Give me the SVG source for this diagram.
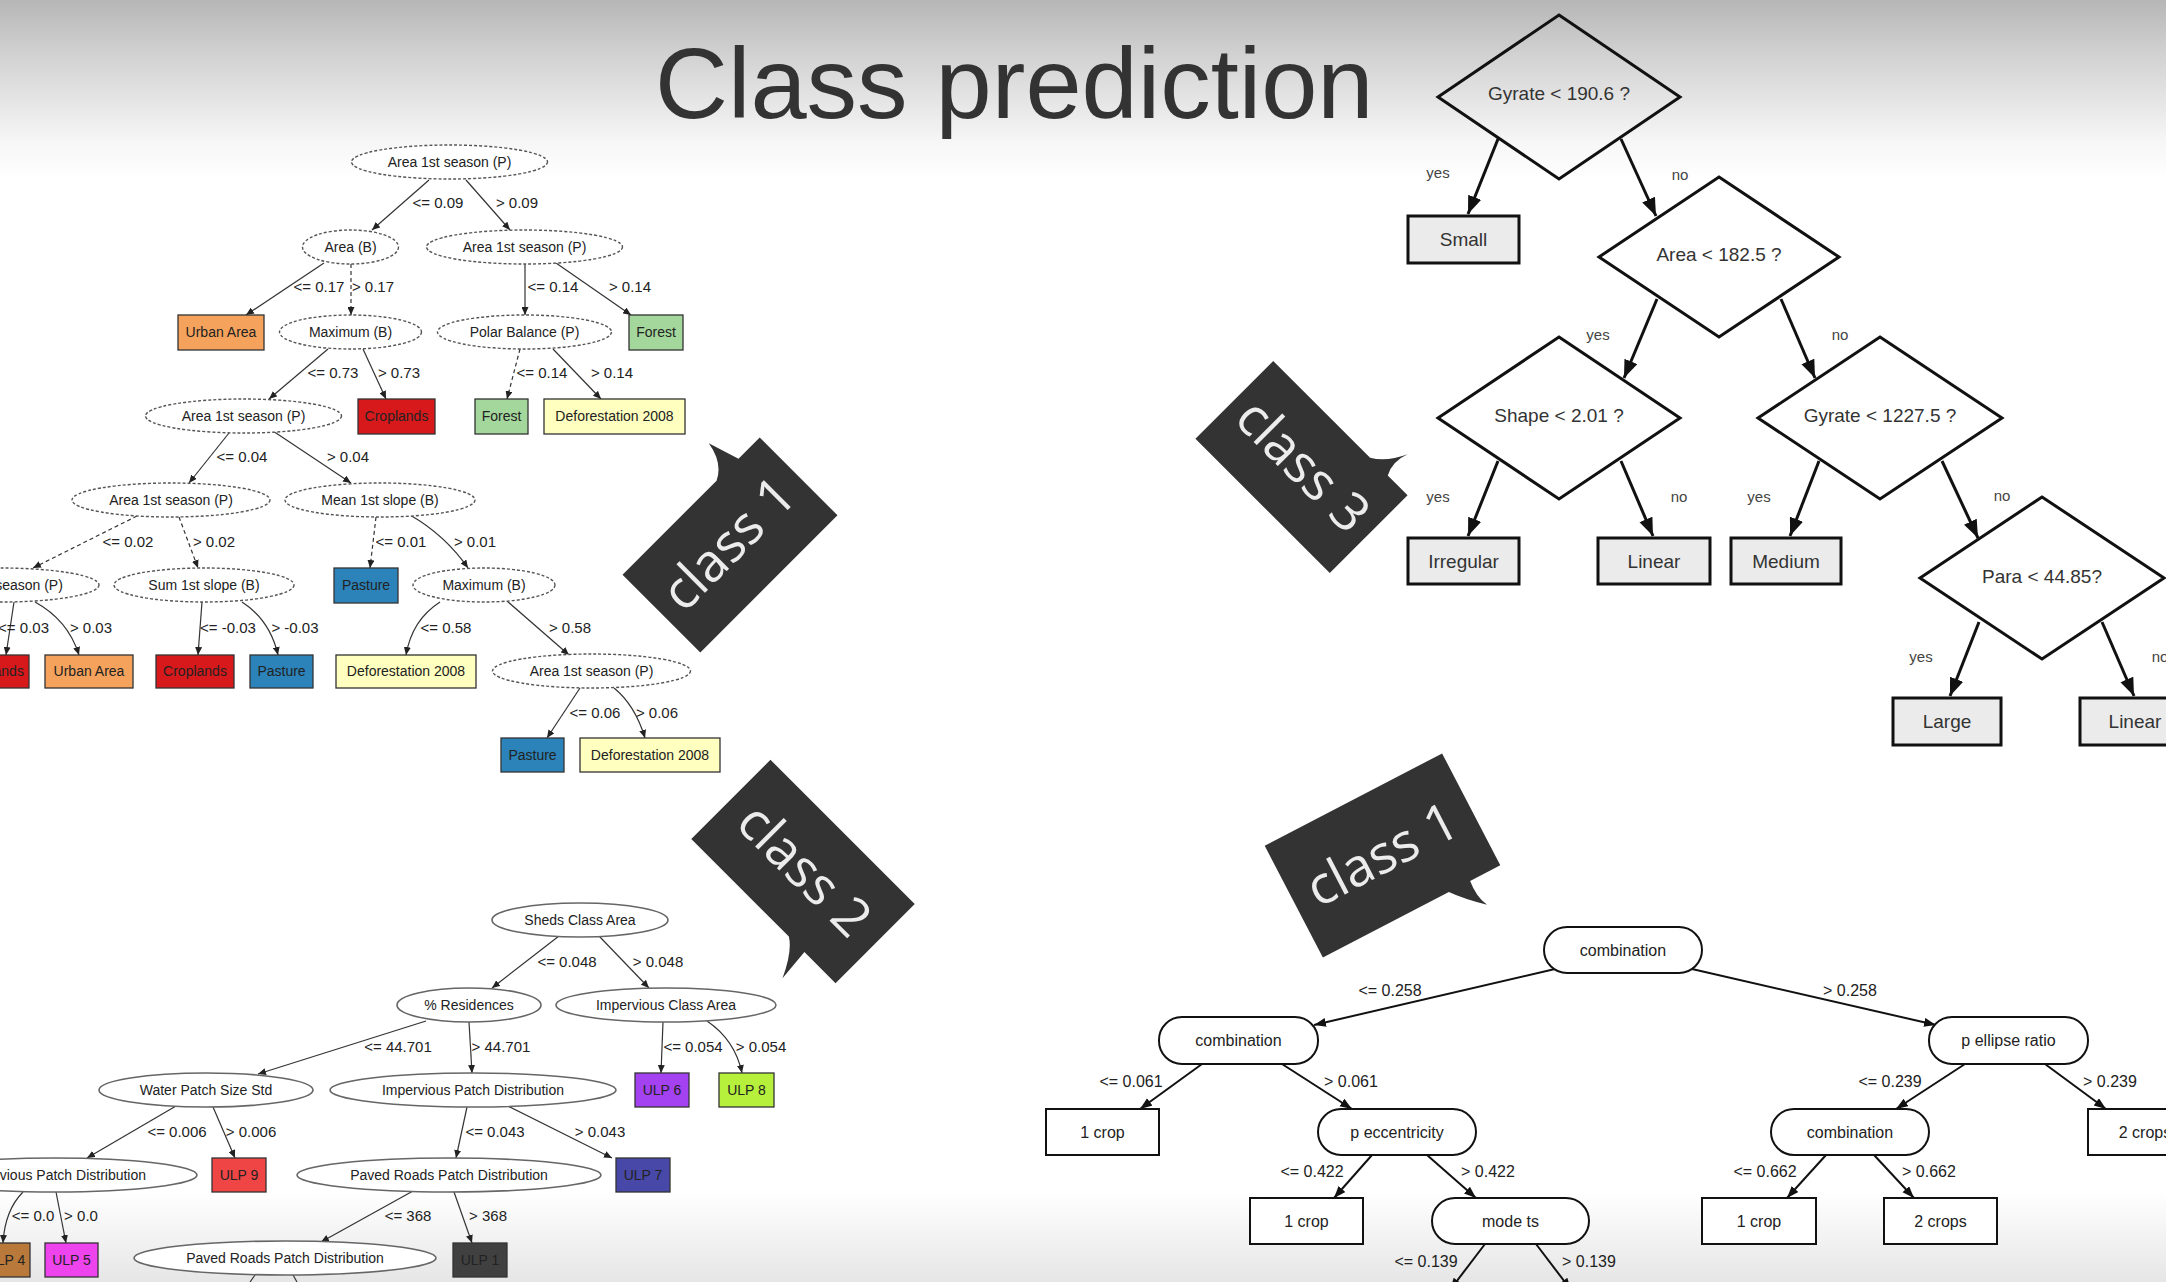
<svg xmlns="http://www.w3.org/2000/svg" width="2166" height="1282" viewBox="0 0 2166 1282">
<defs>
<linearGradient id="bg" x1="0" y1="0" x2="0" y2="1282" gradientUnits="userSpaceOnUse">
<stop offset="0" stop-color="#b6b6b6"/>
<stop offset="0.04" stop-color="#d0d0d0"/>
<stop offset="0.11" stop-color="#f6f6f6"/>
<stop offset="0.14" stop-color="#ffffff"/>
<stop offset="0.93" stop-color="#ffffff"/>
<stop offset="1" stop-color="#e6e6e6"/>
</linearGradient>
<marker id="arS" markerUnits="userSpaceOnUse" markerWidth="9" markerHeight="7" refX="8" refY="3.5" orient="auto"><path d="M0,0 L8,3.5 L0,7 Z" fill="#222"/></marker>
<marker id="arL" markerUnits="userSpaceOnUse" markerWidth="19" markerHeight="15" refX="18" refY="7" orient="auto"><path d="M0,0 L18,7 L0,14 Z" fill="#111"/></marker>
<marker id="arM" markerUnits="userSpaceOnUse" markerWidth="13" markerHeight="10" refX="12" refY="4.5" orient="auto"><path d="M0,0 L12,4.5 L0,9 Z" fill="#111"/></marker>
</defs>
<style>
text{font-family:"Liberation Sans",Arial,sans-serif;}
.title{font-size:101px;fill:#333;}
.ta{font-size:14px;fill:#222;text-anchor:middle;}
.la{font-size:15px;fill:#222;text-anchor:middle;}
.ella{fill:#fff;stroke:#555;stroke-width:1.4;stroke-dasharray:3 2;}
.ellb{fill:#fff;stroke:#666;stroke-width:1.6;}
.bx{stroke:#333;stroke-width:1.3;}
.ea{fill:none;stroke:#333;stroke-width:1.2;marker-end:url(#arS);}
.dash{stroke-dasharray:4 3;}
.stub{fill:none;stroke:#333;stroke-width:1.2;}
.dia{fill:none;stroke:#111;stroke-width:3;}
.bc{fill:#ebebeb;stroke:#111;stroke-width:3;}
.tc{font-size:19px;fill:#333;text-anchor:middle;}
.yn{font-size:15px;fill:#444;text-anchor:middle;}
.ec{fill:none;stroke:#111;stroke-width:3;marker-end:url(#arL);}
.nd{fill:#fff;stroke:#111;stroke-width:2;}
.td{font-size:16px;fill:#222;text-anchor:middle;}
.ld{font-size:16px;fill:#222;text-anchor:middle;}
.ed{fill:none;stroke:#111;stroke-width:2;marker-end:url(#arM);}
.bub{fill:#333;}
.bt{font-family:"Open Sans","Liberation Sans",sans-serif;font-size:53px;fill:#ececec;text-anchor:middle;}
</style>
<rect x="0" y="0" width="2166" height="1282" fill="url(#bg)"/>
<text class="title" x="655" y="118">Class prediction</text>

<!-- Tree A connectors -->
<g id="connectors-a">
<path class="ea" d="M429,180 L372,230"/>
<path class="ea" d="M466,180 L510,230"/>
<path class="ea" d="M324,263 L246,315"/>
<path class="ea dash" d="M351,264 L351,315"/>
<path class="ea" d="M525,264 L525,315"/>
<path class="ea" d="M556,263 L631,315"/>
<path class="ea" d="M328,349 L269,399"/>
<path class="ea" d="M363,349 L386,399"/>
<path class="ea dash" d="M520,349 L507,399"/>
<path class="ea" d="M553,349 L601,399"/>
<path class="ea" d="M229,433 L189,483"/>
<path class="ea" d="M273,431 L351,483"/>
<path class="ea dash" d="M137,516 L33,568"/>
<path class="ea dash" d="M179,517 L198,568"/>
<path class="ea dash" d="M376,517 L370,568"/>
<path class="ea" d="M410,515 Q445,535 468,568"/>
<path class="ea" d="M14,602 L6,655"/>
<path class="ea" d="M35,602 Q68,620 79,655"/>
<path class="ea" d="M202,602 L198,655"/>
<path class="ea" d="M242,602 Q270,620 278,655"/>
<path class="ea" d="M440,602 Q412,620 406,655"/>
<path class="ea" d="M507,601 L569,655"/>
<path class="ea" d="M580,688 L547,738"/>
<path class="ea" d="M614,688 Q635,705 645,738"/>
</g>
<g id="labels-a">
<text class="la" x="438" y="208">&lt;= 0.09</text>
<text class="la" x="517" y="208">&gt; 0.09</text>
<text class="la" x="319" y="292">&lt;= 0.17</text>
<text class="la" x="373" y="292">&gt; 0.17</text>
<text class="la" x="553" y="292">&lt;= 0.14</text>
<text class="la" x="630" y="292">&gt; 0.14</text>
<text class="la" x="333" y="378">&lt;= 0.73</text>
<text class="la" x="399" y="378">&gt; 0.73</text>
<text class="la" x="542" y="378">&lt;= 0.14</text>
<text class="la" x="612" y="378">&gt; 0.14</text>
<text class="la" x="242" y="462">&lt;= 0.04</text>
<text class="la" x="348" y="462">&gt; 0.04</text>
<text class="la" x="128" y="547">&lt;= 0.02</text>
<text class="la" x="214" y="547">&gt; 0.02</text>
<text class="la" x="401" y="547">&lt;= 0.01</text>
<text class="la" x="475" y="547">&gt; 0.01</text>
<text class="la" x="49" y="633" style="text-anchor:end">&lt;= 0.03</text>
<text class="la" x="91" y="633">&gt; 0.03</text>
<text class="la" x="228" y="633">&lt;= -0.03</text>
<text class="la" x="295" y="633">&gt; -0.03</text>
<text class="la" x="446" y="633">&lt;= 0.58</text>
<text class="la" x="570" y="633">&gt; 0.58</text>
<text class="la" x="595" y="718">&lt;= 0.06</text>
<text class="la" x="657" y="718">&gt; 0.06</text>
</g>
<!-- Tree A nodes -->
<g id="a1"><ellipse class="ella" cx="449.5" cy="162" rx="98" ry="17"/><text class="ta" x="449.5" y="167">Area 1st season (P)</text></g>
<g id="a2"><ellipse class="ella" cx="350.5" cy="247" rx="48" ry="17"/><text class="ta" x="350.5" y="252">Area (B)</text></g>
<g id="a3"><ellipse class="ella" cx="524.5" cy="247" rx="98" ry="17"/><text class="ta" x="524.5" y="252">Area 1st season (P)</text></g>
<g id="a4"><rect class="bx" x="178" y="315" width="86" height="35" fill="#f5a25d"/><text class="ta" x="221" y="337">Urban Area</text></g>
<g id="a5"><ellipse class="ella" cx="350.5" cy="332" rx="71" ry="17"/><text class="ta" x="350.5" y="337">Maximum (B)</text></g>
<g id="a6"><ellipse class="ella" cx="524.5" cy="332" rx="87" ry="17"/><text class="ta" x="524.5" y="337">Polar Balance (P)</text></g>
<g id="a7"><rect class="bx" x="629" y="315" width="54" height="35" fill="#a4d79c"/><text class="ta" x="656" y="337">Forest</text></g>
<g id="a8"><ellipse class="ella" cx="243.5" cy="416" rx="98" ry="17"/><text class="ta" x="243.5" y="421">Area 1st season (P)</text></g>
<g id="a9"><rect class="bx" x="358" y="399" width="77" height="35" fill="#d7191c"/><text class="ta" x="396.5" y="421">Croplands</text></g>
<g id="a10"><rect class="bx" x="475" y="399" width="53" height="35" fill="#a4d79c"/><text class="ta" x="501.5" y="421">Forest</text></g>
<g id="a11"><rect class="bx" x="544" y="399" width="141" height="35" fill="#ffffbf"/><text class="ta" x="614.5" y="421">Deforestation 2008</text></g>
<g id="a12"><ellipse class="ella" cx="171" cy="500" rx="99" ry="17"/><text class="ta" x="171" y="505">Area 1st season (P)</text></g>
<g id="a13"><ellipse class="ella" cx="380" cy="500" rx="95" ry="17"/><text class="ta" x="380" y="505">Mean 1st slope (B)</text></g>
<g id="a14"><ellipse class="ella" cx="1" cy="585" rx="98" ry="17"/><text class="ta" x="1" y="590">Area 1st season (P)</text></g>
<g id="a15"><ellipse class="ella" cx="204" cy="585" rx="90" ry="17"/><text class="ta" x="204" y="590">Sum 1st slope (B)</text></g>
<g id="a16"><rect class="bx" x="334" y="568" width="64" height="35" fill="#2b83ba"/><text class="ta" x="366" y="590">Pasture</text></g>
<g id="a17"><ellipse class="ella" cx="484" cy="585" rx="71" ry="17"/><text class="ta" x="484" y="590">Maximum (B)</text></g>
<g id="a18"><rect class="bx" x="-45" y="655" width="74" height="33" fill="#d7191c"/><text class="ta" x="-8" y="676">Croplands</text></g>
<g id="a19"><rect class="bx" x="45" y="655" width="88" height="33" fill="#f5a25d"/><text class="ta" x="89" y="676">Urban Area</text></g>
<g id="a20"><rect class="bx" x="156" y="655" width="78" height="33" fill="#d7191c"/><text class="ta" x="195" y="676">Croplands</text></g>
<g id="a21"><rect class="bx" x="250" y="655" width="63" height="33" fill="#2b83ba"/><text class="ta" x="281.5" y="676">Pasture</text></g>
<g id="a22"><rect class="bx" x="336" y="655" width="140" height="33" fill="#ffffbf"/><text class="ta" x="406" y="676">Deforestation 2008</text></g>
<g id="a23"><ellipse class="ella" cx="591.5" cy="671" rx="99" ry="17"/><text class="ta" x="591.5" y="676">Area 1st season (P)</text></g>
<g id="a24"><rect class="bx" x="501" y="738" width="63" height="34" fill="#2b83ba"/><text class="ta" x="532.5" y="760">Pasture</text></g>
<g id="a25"><rect class="bx" x="580" y="738" width="140" height="34" fill="#ffffbf"/><text class="ta" x="650" y="760">Deforestation 2008</text></g>

<!-- Tree B connectors -->
<g id="connectors-b">
<path class="ea" d="M559,936 L492,988"/>
<path class="ea" d="M599,936 L649,988"/>
<path class="ea" d="M426,1021 L258,1074"/>
<path class="ea" d="M469,1022 L472,1073"/>
<path class="ea" d="M663,1022 L661,1073"/>
<path class="ea" d="M707,1021 Q735,1040 742,1073"/>
<path class="ea" d="M176,1106 L87,1158"/>
<path class="ea" d="M213,1107 L235,1158"/>
<path class="ea" d="M467,1107 L456,1158"/>
<path class="ea" d="M508,1106 L612,1158"/>
<path class="ea" d="M23,1192 Q5,1210 3,1243"/>
<path class="ea" d="M56,1192 L66,1243"/>
<path class="ea" d="M413,1191 L321,1242"/>
<path class="ea" d="M454,1192 L472,1243"/>
<path class="stub" d="M255,1275 L250,1282"/>
<path class="stub" d="M293,1275 L297,1282"/>
</g>
<g id="labels-b">
<text class="la" x="567" y="967">&lt;= 0.048</text>
<text class="la" x="658" y="967">&gt; 0.048</text>
<text class="la" x="398" y="1052">&lt;= 44.701</text>
<text class="la" x="501" y="1052">&gt; 44.701</text>
<text class="la" x="693" y="1052">&lt;= 0.054</text>
<text class="la" x="761" y="1052">&gt; 0.054</text>
<text class="la" x="177" y="1137">&lt;= 0.006</text>
<text class="la" x="251" y="1137">&gt; 0.006</text>
<text class="la" x="495" y="1137">&lt;= 0.043</text>
<text class="la" x="600" y="1137">&gt; 0.043</text>
<text class="la" x="33" y="1221">&lt;= 0.0</text>
<text class="la" x="81" y="1221">&gt; 0.0</text>
<text class="la" x="408" y="1221">&lt;= 368</text>
<text class="la" x="488" y="1221">&gt; 368</text>
</g>
<!-- Tree B nodes -->
<g id="b1"><ellipse class="ellb" cx="580" cy="920" rx="88" ry="17"/><text class="ta" x="580" y="925">Sheds Class Area</text></g>
<g id="b2"><ellipse class="ellb" cx="469" cy="1005" rx="72" ry="17"/><text class="ta" x="469" y="1010">% Residences</text></g>
<g id="b3"><ellipse class="ellb" cx="666" cy="1005" rx="110" ry="17"/><text class="ta" x="666" y="1010">Impervious Class Area</text></g>
<g id="b4"><ellipse class="ellb" cx="206" cy="1090" rx="107" ry="17"/><text class="ta" x="206" y="1095">Water Patch Size Std</text></g>
<g id="b5"><ellipse class="ellb" cx="473" cy="1090" rx="143" ry="17"/><text class="ta" x="473" y="1095">Impervious Patch Distribution</text></g>
<g id="b6"><rect class="bx" x="635" y="1073" width="54" height="34" fill="#a441f0"/><text class="ta" x="662" y="1095">ULP 6</text></g>
<g id="b7"><rect class="bx" x="719" y="1073" width="55" height="34" fill="#b6f03c"/><text class="ta" x="746.5" y="1095">ULP 8</text></g>
<g id="b8"><ellipse class="ellb" cx="55" cy="1175" rx="142" ry="17"/><text class="ta" x="55" y="1180">Impervious Patch Distribution</text></g>
<g id="b9"><rect class="bx" x="212" y="1158" width="54" height="34" fill="#f04545"/><text class="ta" x="239" y="1180">ULP 9</text></g>
<g id="b10"><ellipse class="ellb" cx="449" cy="1175" rx="152" ry="17"/><text class="ta" x="449" y="1180">Paved Roads Patch Distribution</text></g>
<g id="b11"><rect class="bx" x="616" y="1158" width="54" height="34" fill="#4848a8"/><text class="ta" x="643" y="1180">ULP 7</text></g>
<g id="b12"><rect class="bx" x="-20" y="1243" width="50" height="34" fill="#b8793a"/><text class="ta" x="6" y="1265">ULP 4</text></g>
<g id="b13"><rect class="bx" x="45" y="1243" width="53" height="34" fill="#ee44ee"/><text class="ta" x="71.5" y="1265">ULP 5</text></g>
<g id="b14"><ellipse class="ellb" cx="285" cy="1258" rx="151" ry="17"/><text class="ta" x="285" y="1263">Paved Roads Patch Distribution</text></g>
<g id="b15"><rect class="bx" x="453" y="1243" width="54" height="34" fill="#404040"/><text class="ta" x="480" y="1265">ULP 1</text></g>

<!-- Tree C connectors -->
<g id="connectors-c">
<path class="ec" d="M1498,139 L1468,214"/>
<path class="ec" d="M1621,139 L1656,216"/>
<path class="ec" d="M1657,299 L1624,378"/>
<path class="ec" d="M1781,299 L1815,378"/>
<path class="ec" d="M1498,461 L1468,536"/>
<path class="ec" d="M1621,461 L1653,536"/>
<path class="ec" d="M1819,461 L1790,536"/>
<path class="ec" d="M1942,461 L1978,538"/>
<path class="ec" d="M1979,622 L1950,696"/>
<path class="ec" d="M2102,622 L2134,696"/>
</g>
<g id="labels-c">
<text class="yn" x="1438" y="178">yes</text>
<text class="yn" x="1680" y="180">no</text>
<text class="yn" x="1598" y="340">yes</text>
<text class="yn" x="1840" y="340">no</text>
<text class="yn" x="1438" y="502">yes</text>
<text class="yn" x="1679" y="502">no</text>
<text class="yn" x="1759" y="502">yes</text>
<text class="yn" x="2002" y="501">no</text>
<text class="yn" x="1921" y="662">yes</text>
<text class="yn" x="2160" y="662">no</text>
</g>
<!-- Tree C nodes -->
<g id="c1"><polygon class="dia" points="1559,15 1680,97 1559,179 1438,97"/><text class="tc" x="1559" y="100">Gyrate &lt; 190.6 ?</text></g>
<g id="c2"><rect class="bc" x="1408" y="216" width="111" height="47"/><text class="tc" x="1463.5" y="246">Small</text></g>
<g id="c3"><polygon class="dia" points="1719,177 1839,257 1719,337 1599,257"/><text class="tc" x="1719" y="261">Area &lt; 182.5 ?</text></g>
<g id="c4"><polygon class="dia" points="1559,337 1680,418 1559,499 1438,418"/><text class="tc" x="1559" y="422">Shape &lt; 2.01 ?</text></g>
<g id="c5"><polygon class="dia" points="1880,337 2002,418 1880,499 1758,418"/><text class="tc" x="1880" y="422">Gyrate &lt; 1227.5 ?</text></g>
<g id="c6"><rect class="bc" x="1408" y="538" width="111" height="46"/><text class="tc" x="1463.5" y="568">Irregular</text></g>
<g id="c7"><rect class="bc" x="1598" y="538" width="112" height="46"/><text class="tc" x="1654" y="568">Linear</text></g>
<g id="c8"><rect class="bc" x="1731" y="538" width="110" height="46"/><text class="tc" x="1786" y="568">Medium</text></g>
<g id="c9"><polygon class="dia" points="2042,497 2164,578 2042,659 1920,578"/><text class="tc" x="2042" y="583">Para &lt; 44.85?</text></g>
<g id="c10"><rect class="bc" x="1893" y="698" width="108" height="47"/><text class="tc" x="1947" y="728">Large</text></g>
<g id="c11"><rect class="bc" x="2080" y="698" width="112" height="47"/><text class="tc" x="2135" y="728">Linear</text></g>

<!-- Tree D connectors -->
<g id="connectors-d">
<path class="ed" d="M1555,969 L1314,1025"/>
<path class="ed" d="M1692,969 L1936,1025"/>
<path class="ed" d="M1202,1064 L1140,1109"/>
<path class="ed" d="M1282,1064 L1352,1109"/>
<path class="ed" d="M1965,1064 L1896,1109"/>
<path class="ed" d="M2045,1064 L2106,1109"/>
<path class="ed" d="M1372,1155 L1334,1198"/>
<path class="ed" d="M1427,1155 L1476,1198"/>
<path class="ed" d="M1826,1155 L1787,1198"/>
<path class="ed" d="M1874,1155 L1914,1198"/>
<path class="ed" d="M1485,1244 L1450,1290"/>
<path class="ed" d="M1536,1244 L1571,1290"/>
</g>
<g id="labels-d">
<text class="ld" x="1390" y="996">&lt;= 0.258</text>
<text class="ld" x="1850" y="996">&gt; 0.258</text>
<text class="ld" x="1131" y="1087">&lt;= 0.061</text>
<text class="ld" x="1351" y="1087">&gt; 0.061</text>
<text class="ld" x="1890" y="1087">&lt;= 0.239</text>
<text class="ld" x="2110" y="1087">&gt; 0.239</text>
<text class="ld" x="1312" y="1177">&lt;= 0.422</text>
<text class="ld" x="1488" y="1177">&gt; 0.422</text>
<text class="ld" x="1765" y="1177">&lt;= 0.662</text>
<text class="ld" x="1929" y="1177">&gt; 0.662</text>
<text class="ld" x="1426" y="1267">&lt;= 0.139</text>
<text class="ld" x="1589" y="1267">&gt; 0.139</text>
</g>
<!-- Tree D nodes -->
<g id="d1"><rect class="nd" x="1544" y="927" width="158" height="46" rx="23"/><text class="td" x="1623" y="956">combination</text></g>
<g id="d2"><rect class="nd" x="1159" y="1017" width="159" height="47" rx="23"/><text class="td" x="1238.5" y="1046">combination</text></g>
<g id="d3"><rect class="nd" x="1929" y="1017" width="159" height="47" rx="23"/><text class="td" x="2008.5" y="1046">p ellipse ratio</text></g>
<g id="d4"><rect class="nd" x="1046" y="1109" width="113" height="46"/><text class="td" x="1102.5" y="1138">1 crop</text></g>
<g id="d5"><rect class="nd" x="1318" y="1109" width="158" height="46" rx="23"/><text class="td" x="1397" y="1138">p eccentricity</text></g>
<g id="d6"><rect class="nd" x="1771" y="1109" width="158" height="46" rx="23"/><text class="td" x="1850" y="1138">combination</text></g>
<g id="d7"><rect class="nd" x="2088" y="1109" width="112" height="46"/><text class="td" x="2145" y="1138">2 crops</text></g>
<g id="d8"><rect class="nd" x="1250" y="1198" width="113" height="46"/><text class="td" x="1306.5" y="1227">1 crop</text></g>
<g id="d9"><rect class="nd" x="1432" y="1198" width="157" height="46" rx="23"/><text class="td" x="1510.5" y="1227">mode ts</text></g>
<g id="d10"><rect class="nd" x="1702" y="1198" width="114" height="46"/><text class="td" x="1759" y="1227">1 crop</text></g>
<g id="d11"><rect class="nd" x="1884" y="1198" width="113" height="46"/><text class="td" x="1940.5" y="1227">2 crops</text></g>

<!-- Speech bubbles -->
<g id="bubble-class1-left" transform="translate(730,545) rotate(-45)">
<path class="bub" d="M-97,-55 L36,-55 Q53,-63 57,-87 L67,-55 L97,-55 L97,55 L-97,55 Z"/>
<text class="bt" x="0" y="16">class 1</text>
</g>
<g id="bubble-class2" transform="translate(803,871.5) rotate(45)">
<path class="bub" d="M-102,-56 L102,-56 L102,56 L58,56 L61,90 Q49,64 36,56 L-102,56 Z"/>
<text class="bt" x="0" y="16">class 2</text>
</g>
<g id="bubble-class3" transform="translate(1301.5,467) rotate(45)">
<path class="bub" d="M-95,-55 L42,-55 Q57,-64 66,-84 Q60,-68 67,-55 L95,-55 L95,55 L-95,55 Z"/>
<text class="bt" x="0" y="16">class 3</text>
</g>
<g id="bubble-class1-right" transform="translate(1382.5,855.5) rotate(-27.5)">
<path class="bub" d="M-100,-63 L100,-63 L100,63 L66,63 Q64,80 70,92 Q52,76 42,63 L-100,63 Z"/>
<text class="bt" x="0" y="17">class 1</text>
</g>
</svg>
